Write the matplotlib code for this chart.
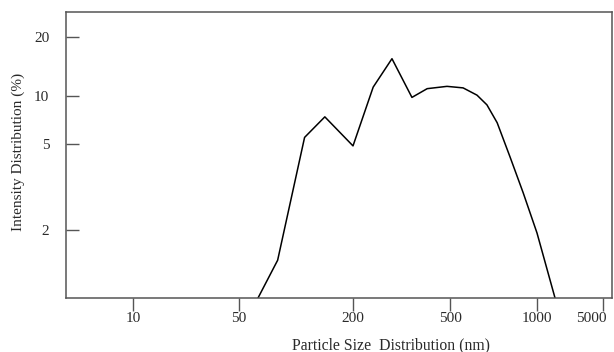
import numpy as np
import matplotlib
matplotlib.use("Agg")
import matplotlib.pyplot as plt
import matplotlib.transforms as mtransforms

# particle size (nm) and intensity (%)
size_nm = [63, 80, 111, 142, 200, 242, 289, 349, 403, 486, 555, 620,
           671, 728, 807, 896, 1000, 1552]
intensity = [1.0, 1.47, 5.5, 7.4, 4.9, 11.1, 15.5, 9.8, 10.9, 11.2, 11.0,
             10.1, 8.8, 6.8, 4.35, 2.97, 1.94, 1.0]

x_ticks = [10, 50, 200, 500, 1000, 5000]
y_ticks = [2, 5, 10, 20]

# the instrument's axes are not evenly spaced in log units, so the scales
# are built piecewise through the tick positions
x_knots = np.log10([10, 50, 200, 500, 1000, 5000])
x_pos = np.array([133, 239, 353, 450, 537, 603], dtype=float)
y_knots = np.log10([1, 2, 5, 10, 20])
y_pos = -np.array([298, 230, 144, 96, 37], dtype=float)


def piecewise(v, xp, fp):
    v = np.asarray(v, dtype=float)
    out = np.interp(v, xp, fp)
    lo_slope = (fp[1] - fp[0]) / (xp[1] - xp[0])
    hi_slope = (fp[-1] - fp[-2]) / (xp[-1] - xp[-2])
    out = np.where(v < xp[0], fp[0] + (v - xp[0]) * lo_slope, out)
    out = np.where(v > xp[-1], fp[-1] + (v - xp[-1]) * hi_slope, out)
    return out


def safe_log(v):
    v = np.asarray(v, dtype=float)
    return np.log10(np.clip(v, 1e-6, None))


def x_fwd(v):
    return piecewise(safe_log(v), x_knots, x_pos)


def x_inv(p):
    return 10 ** piecewise(p, x_pos, x_knots)


def y_fwd(v):
    return piecewise(safe_log(v), y_knots, y_pos)


def y_inv(p):
    return 10 ** piecewise(p, y_pos, y_knots)


plt.rcParams['font.family'] = ['Liberation Serif', 'DejaVu Serif']
text_color = '#2a2a2a'
edge_color = '#555555'

fig = plt.figure(figsize=(6.14, 3.52), dpi=100)
ax = fig.add_axes([66 / 614, 1 - 298 / 352, (612 - 66) / 614, (298 - 12) / 352])

ax.set_xscale('function', functions=(x_fwd, x_inv))
ax.set_yscale('function', functions=(y_fwd, y_inv))

ax.plot(size_nm, intensity, color='black', lw=1.1, clip_on=True)

ax.set_xlim(x_inv(66), x_inv(612))
ax.set_ylim(y_inv(-298), y_inv(-12))

ax.set_xticks(x_ticks)
ax.set_xticklabels([str(t) for t in x_ticks])
ax.set_yticks(y_ticks)
ax.set_yticklabels([str(t) for t in y_ticks])
ax.xaxis.set_minor_locator(matplotlib.ticker.NullLocator())
ax.yaxis.set_minor_locator(matplotlib.ticker.NullLocator())

ax.tick_params(axis='x', direction='out', length=9, width=1, pad=1,
               labelsize=11, colors=edge_color, labelcolor=text_color)
ax.tick_params(axis='y', direction='in', length=9, width=1, pad=12,
               labelsize=11, colors=edge_color, labelcolor=text_color)
for s in ax.spines.values():
    s.set_color(edge_color)
    s.set_linewidth(1.1)

# keep the last tick label inside the figure edge
last = ax.get_xticklabels()[-1]
last.set_horizontalalignment('right')
last.set_transform(last.get_transform() +
                   mtransforms.ScaledTranslation(4 / 100, 0, fig.dpi_scale_trans))

ax.set_xlabel('Particle Size  Distribution (nm)', fontsize=11.3,
              color=text_color, va='center')
ax.xaxis.set_label_coords((391 - 66) / 546, -47 / 286)
ax.set_ylabel('Intensity Distribution (%)', fontsize=11,
              color=text_color, va='center')
ax.yaxis.set_label_coords((18 - 66) / 546, (298 - 151.5) / 286)

fig.savefig('out.png', dpi=100)
